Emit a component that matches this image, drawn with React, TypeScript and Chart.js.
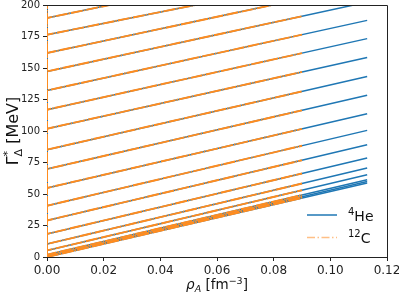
import React, { useEffect, useRef } from "react";
import { Chart, registerables } from "chart.js";

Chart.register(...registerables);

const FONT = "DejaVu Sans";

// tick labels
const xTicks = [0, 0.02, 0.04, 0.06, 0.08, 0.1, 0.12];
const yTicks = [0, 25, 50, 75, 100, 125, 150, 175, 200];

// density where each curve ends (fm^-3)
const rhoEndHe = 0.113;
const rhoEndC = 0.09;

// Γ*Δ at ρ = 0 (shared by both nuclei), MeV
const gammaStart = [0, 0.4, 1.8, 5.2, 10.3, 18.3, 29.0, 40.7, 54.8, 69.8, 85.2, 101.8, 116.9, 132.2, 147.3, 161.9, 176.4, 189.7, 203.0];
// Γ*Δ at the end of the 4He curves, MeV
const gammaEndHe = [58.8, 60.0, 61.3, 65.3, 70.6, 78.6, 89.1, 100.5, 113.7, 128.3, 143.3, 158.4, 173.3, 187.8, 202.3, 216.1, 227.3, 242.6, 255.0];
// Γ*Δ at the end of the 12C curves, MeV
const gammaEndC = [46.8, 47.8, 49.2, 53.0, 58.3, 66.3, 76.8, 88.3, 101.7, 116.4, 131.4, 146.9, 161.8, 176.5, 191.1, 205.0, 217.0, 231.7, 244.0];

const BLUE = "#1f77b4";
const ORANGE = "#ff8c1f";
const ORANGE_LEG = "rgba(255,127,14,0.5)";

type Run = { text: string; size: number; dy?: number; italic?: boolean; stackWith?: Run };

function fontOf(r: Run) {
  return `${r.italic ? "italic " : ""}${r.size}px "${FONT}"`;
}

function runsWidth(ctx: CanvasRenderingContext2D, runs: Run[]) {
  let w = 0;
  for (const r of runs) {
    ctx.font = fontOf(r);
    let rw = ctx.measureText(r.text).width;
    if (r.stackWith) {
      ctx.font = fontOf(r.stackWith);
      rw = Math.max(rw, ctx.measureText(r.stackWith.text).width);
    }
    w += rw;
  }
  return w;
}

function drawRuns(ctx: CanvasRenderingContext2D, runs: Run[], x: number, y: number) {
  let cx = x;
  for (const r of runs) {
    ctx.font = fontOf(r);
    ctx.fillText(r.text, cx, y + (r.dy || 0));
    let rw = ctx.measureText(r.text).width;
    if (r.stackWith) {
      ctx.font = fontOf(r.stackWith);
      ctx.fillText(r.stackWith.text, cx, y + (r.stackWith.dy || 0));
      rw = Math.max(rw, ctx.measureText(r.stackWith.text).width);
    }
    cx += rw;
  }
}

const decorPlugin = {
  id: "decor",
  afterDatasetsDraw(chart: any) {
    const { ctx, chartArea } = chart;
    const { left, right, top, bottom } = chartArea;
    ctx.save();
    ctx.strokeStyle = "#222";
    ctx.lineWidth = 1;
    ctx.beginPath();
    ctx.moveTo(left, Math.round(top) + 0.5);
    ctx.lineTo(Math.round(right) + 0.5, Math.round(top) + 0.5);
    ctx.lineTo(Math.round(right) + 0.5, bottom);
    ctx.stroke();
    ctx.restore();
  },
  afterDraw(chart: any) {
    const { ctx, chartArea } = chart;
    const { left, right, top, bottom } = chartArea;
    ctx.save();
    ctx.fillStyle = "#111";
    ctx.textBaseline = "alphabetic";
    ctx.textAlign = "left";

    // x axis title
    const xRuns: Run[] = [
      { text: "ρ", size: 13.5, italic: true },
      { text: "A", size: 9.5, italic: true, dy: 3 },
      { text: " [fm", size: 13.5 },
      { text: "−3", size: 9.5, dy: -5.5 },
      { text: "]", size: 13.5 },
    ];
    const xw = runsWidth(ctx, xRuns);
    drawRuns(ctx, xRuns, (left + right) / 2 - xw / 2, 289);

    // y axis title
    const yRuns: Run[] = [
      { text: "Γ", size: 16 },
      { text: "*", size: 11, dy: -7, stackWith: { text: "Δ", size: 11, dy: 3.5 } },
      { text: " [MeV]", size: 16 },
    ];
    const yw = runsWidth(ctx, yRuns);
    ctx.save();
    ctx.translate(18, (top + bottom) / 2);
    ctx.rotate(-Math.PI / 2);
    drawRuns(ctx, yRuns, -yw / 2, 0);
    ctx.restore();

    // legend
    const lx0 = 307, lx1 = 337;
    ctx.lineWidth = 1.5;
    ctx.strokeStyle = BLUE;
    ctx.setLineDash([]);
    ctx.beginPath();
    ctx.moveTo(lx0, 215);
    ctx.lineTo(lx1, 215);
    ctx.stroke();
    ctx.strokeStyle = ORANGE_LEG;
    ctx.setLineDash([8, 2.5, 1.5, 2.5]);
    ctx.beginPath();
    ctx.moveTo(lx0, 237.5);
    ctx.lineTo(lx1, 237.5);
    ctx.stroke();
    ctx.setLineDash([]);
    drawRuns(ctx, [
      { text: "4", size: 10, dy: -6 },
      { text: "He", size: 14 },
    ], 348, 221);
    drawRuns(ctx, [
      { text: "12", size: 10, dy: -6 },
      { text: "C", size: 14 },
    ], 348, 243);
    ctx.restore();
  },
};

export default function App() {
  const ref = useRef<HTMLCanvasElement>(null);

  useEffect(() => {
    if (!ref.current) return;
    const heSets = gammaStart.map((g0, i) => ({
      label: i === 0 ? "4He" : "",
      data: [
        { x: 0, y: 0 },
        { x: 0, y: g0 },
        { x: rhoEndHe, y: gammaEndHe[i] },
      ],
      borderColor: BLUE,
      borderWidth: 1.5,
      pointRadius: 0,
      fill: false,
      order: 2,
    }));
    const cSets = gammaStart.map((g0, i) => ({
      label: i === 0 ? "12C" : "",
      data: [
        { x: 0, y: 0 },
        { x: 0, y: g0 },
        { x: rhoEndC, y: gammaEndC[i] },
      ],
      borderColor: ORANGE,
      borderWidth: 1.9,
      borderDash: [12, 1, 1.5, 1],
      pointRadius: 0,
      fill: false,
      order: 1,
    }));

    const tickFontX = { family: FONT, size: 12 };
    const tickFontY = { family: FONT, size: 10 };

    const chart = new Chart(ref.current, {
      type: "line",
      data: { datasets: [...heSets, ...cSets] as any },
      options: {
        responsive: false,
        animation: false,
        devicePixelRatio: 1,
        layout: { padding: { top: 5, right: 12, left: 0, bottom: 0 } },
        plugins: { legend: { display: false }, tooltip: { enabled: false } },
        elements: { point: { radius: 0 }, line: { tension: 0 } },
        scales: {
          x: {
            type: "linear",
            min: 0,
            max: 0.12,
            afterBuildTicks: (s: any) => {
              s.ticks = xTicks.map((v) => ({ value: v }));
            },
            ticks: {
              callback: (v: any) => Number(v).toFixed(2),
              font: tickFontX,
              color: "#222",
              padding: 3,
              maxRotation: 0,
              autoSkip: false,
            },
            grid: { drawOnChartArea: false, drawTicks: true, tickLength: 4, color: "#222" },
            border: { display: true, color: "#222", width: 1 },
            afterFit: (s: any) => {
              s.height = 37;
              s.paddingLeft = 0;
              s.paddingRight = 0;
            },
          },
          y: {
            type: "linear",
            min: 0,
            max: 200,
            afterBuildTicks: (s: any) => {
              s.ticks = yTicks.map((v) => ({ value: v }));
            },
            ticks: {
              callback: (v: any) => String(v),
              font: tickFontY,
              color: "#222",
              padding: 3,
              autoSkip: false,
            },
            grid: { drawOnChartArea: false, drawTicks: true, tickLength: 4, color: "#222" },
            border: { display: true, color: "#222", width: 1 },
            afterFit: (s: any) => {
              s.width = 47;
              s.paddingTop = 0;
              s.paddingBottom = 0;
            },
          },
        },
      } as any,
      plugins: [decorPlugin],
    });
    return () => chart.destroy();
  }, []);

  return (
    <div style={{ position: "absolute", left: 0, top: 0, width: 399, height: 294, background: "#fff" }}>
      <canvas ref={ref} width={399} height={294} style={{ display: "block" }} />
    </div>
  );
}
